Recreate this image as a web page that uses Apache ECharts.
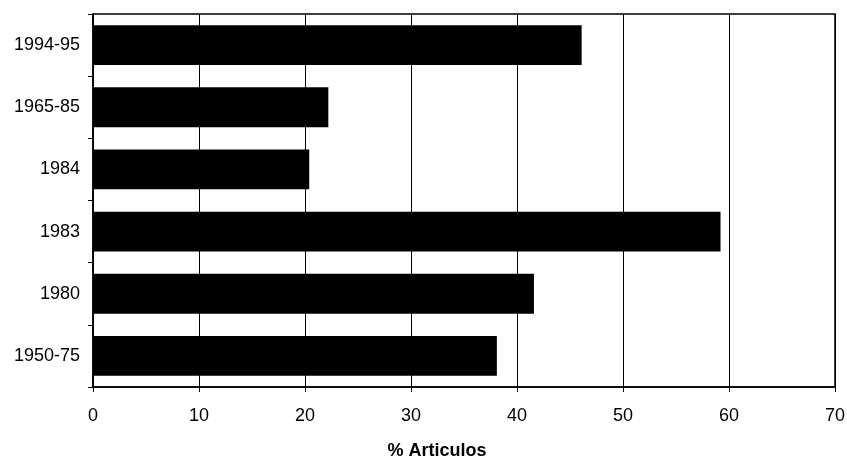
<!DOCTYPE html>
<html>
<head>
<meta charset="utf-8">
<script src="https://cdn.jsdelivr.net/npm/echarts@6/dist/echarts.min.js"></script>
<style>html,body{margin:0;padding:0;background:#fff;}#c{width:847px;height:457px;}</style>
</head>
<body>
<div id="c"></div>
<script>
const categories = ['1994-95', '1965-85', '1984', '1983', '1980', '1950-75'];
const values = [46.1, 22.2, 20.4, 59.2, 41.6, 38.1];
const xTicks = [0, 10, 20, 30, 40, 50, 60, 70];
const axisTitle = '% Articulos';

const chart = echarts.init(document.getElementById('c'));
const font = 'Liberation Sans, Arial, sans-serif';
chart.setOption({
  animation: false,
  backgroundColor: '#fff',
  grid: { left: 93, right: 12, top: 14, bottom: 70, show: true, borderColor: '#000', borderWidth: 1.5, containLabel: false, outerBoundsMode: 'none' },
  xAxis: {
    type: 'value', min: xTicks[0], max: xTicks[xTicks.length - 1], interval: 10,
    name: axisTitle, nameLocation: 'middle', nameGap: 55,
    nameTextStyle: { color: '#000', fontFamily: font, fontSize: 18, fontWeight: 'bold', padding: [0, 54, 0, 0] },
    axisLine: { show: true, lineStyle: { color: '#000', width: 1.5 } },
    axisTick: { show: true, inside: false, length: 5, lineStyle: { color: '#000' } },
    axisLabel: { color: '#000', fontFamily: font, fontSize: 18, margin: 20 },
    splitLine: { show: true, lineStyle: { color: '#000', width: 1 } }
  },
  yAxis: {
    type: 'category', data: categories, inverse: true,
    axisLine: { show: true, lineStyle: { color: '#000', width: 1.5 } },
    axisTick: { show: true, inside: false, length: 5, lineStyle: { color: '#000' } },
    axisLabel: { color: '#000', fontFamily: font, fontSize: 18, margin: 13 },
    splitLine: { show: false }
  },
  series: [{
    type: 'bar', data: values, barCategoryGap: '36%',
    itemStyle: { color: '#000' }
  }]
});
</script>
</body>
</html>
